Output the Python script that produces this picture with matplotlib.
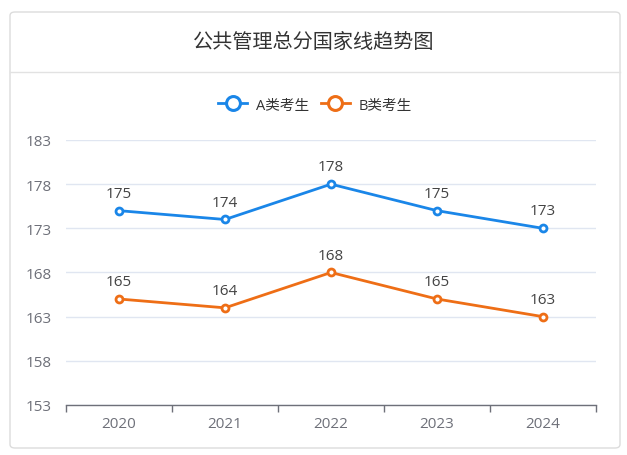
import matplotlib.pyplot as plt
from matplotlib.patches import FancyBboxPatch
from matplotlib.lines import Line2D

plt.rcParams['font.family'] = ['Open Sans', 'Noto Sans CJK SC', 'DejaVu Sans']

# 数据
years = ['2020', '2021', '2022', '2023', '2024']
scores_a = [175, 174, 178, 175, 173]
scores_b = [165, 164, 168, 165, 163]
y_ticks = [153, 158, 163, 168, 173, 178, 183]
labels = ['A类考生', 'B类考生']

color_a = '#1a86e8'
color_b = '#ee6e16'
W, H = 627, 456

fig = plt.figure(figsize=(W / 100, H / 100), dpi=100)

# 卡片背景和边框
card = FancyBboxPatch((10 / W, 7 / H), 610 / W, 436 / H,
                      boxstyle='round,pad=0,rounding_size=0.008',
                      transform=fig.transFigure, facecolor='white',
                      edgecolor='#dcdcdc', linewidth=1, zorder=-5)
fig.patches.append(card)
fig.add_artist(Line2D([10 / W, 620 / W], [1 - 73 / H, 1 - 73 / H],
                      transform=fig.transFigure, color='#e2e2e2', linewidth=1))

fig.text(314 / W, 1 - 43 / H, '公共管理总分国家线趋势图', ha='center', va='center',
         fontsize=14.5, color='#333333')

ax = fig.add_axes([66 / W, 50 / H, 530 / W, 265 / H])
ax.patch.set_alpha(0)
x = list(range(len(years)))

for vals, c, lab in [(scores_a, color_a, labels[0]), (scores_b, color_b, labels[1])]:
    ax.plot(x, vals, color=c, linewidth=2, marker='o', markersize=5,
            markerfacecolor='white', markeredgewidth=2, label=lab, zorder=3)
    for xi, v in zip(x, vals):
        ax.annotate(str(v), (xi, v), xytext=(0, 10), textcoords='offset points',
                    ha='center', va='baseline', fontsize=11, color='#444444')

ax.set_xlim(-0.5, len(years) - 0.5)
ax.set_ylim(153, 183)
ax.set_yticks(y_ticks)
ax.set_xticks(x)
ax.set_xticklabels(years)
ax.set_xticks([i - 0.5 for i in range(len(years) + 1)], minor=True)

ax.tick_params(axis='x', which='major', length=0, pad=8, labelsize=11, labelcolor='#6e7079')
ax.tick_params(axis='x', which='minor', length=5, width=1, color='#6e7079')
ax.tick_params(axis='y', length=0, pad=10, labelsize=11, labelcolor='#6e7079')

ax.grid(axis='y', color='#e0e6f1', linewidth=1)
ax.set_axisbelow(True)
for s in ['top', 'right', 'left']:
    ax.spines[s].set_visible(False)
ax.spines['bottom'].set_color('#6e7079')
ax.spines['bottom'].set_linewidth(1)
ax.spines['bottom'].set_zorder(2)

handles = [Line2D([], [], color=c, linewidth=2, marker='o', markersize=10,
                  markerfacecolor='white', markeredgewidth=2.2)
           for c in [color_a, color_b]]
fig.legend(handles, labels, loc='center', bbox_to_anchor=(315 / W, 1 - 106 / H), ncol=2,
           frameon=False, fontsize=10.5, handlelength=2.0, handletextpad=0.6,
           columnspacing=0.8, labelcolor='#333333')

fig.savefig('out.png', dpi=100)
